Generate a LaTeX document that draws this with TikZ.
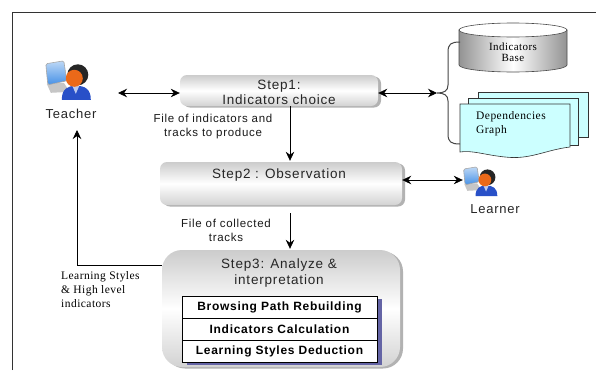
\documentclass[tikz,border=0pt]{standalone}
\usepackage{fontspec}
\setmainfont{Liberation Serif}
\newfontfamily\lsans[LetterSpace=6]{Liberation Sans}
\newfontfamily\lserif[LetterSpace=4]{Liberation Serif}
\usetikzlibrary{arrows.meta,shadows}
\definecolor{pagecyan}{RGB}{204,255,255}
\definecolor{tblshadow}{RGB}{100,100,165}
\definecolor{monblue}{RGB}{70,145,230}
\definecolor{skin}{RGB}{235,105,25}
\definecolor{shirt}{RGB}{40,80,200}
\tikzset{
  stepbox/.style={rounded corners=7pt, top color=gray!40, bottom color=gray!35, middle color=white, draw=none,
    drop shadow={shadow xshift=3pt, shadow yshift=-1.5pt, fill=gray!75, opacity=0.8}},
  arr/.style={-{Stealth[length=9pt,width=8.5pt]}, line width=0.8pt},
  darr/.style={{Stealth[length=9pt,width=8.5pt]}-{Stealth[length=9pt,width=8.5pt]}, line width=0.8pt},
  bigtxt/.style={font=\lsans\fontsize{13.5}{15.5}\selectfont, align=center, text=black!85, inner sep=0pt},
  smalltxt/.style={font=\lsans\fontsize{11.5}{14}\selectfont, align=center, text=black!90, inner sep=0pt},
  seriftxt/.style={font=\lserif\fontsize{11.5}{14}\selectfont, text=black, inner sep=0pt},
  rowbox/.style={draw=black, line width=0.8pt, fill=white, minimum width=195pt, minimum height=22pt,
    font=\lsans\bfseries\fontsize{12}{14}\selectfont, inner sep=0pt},
  iconbox/.style={minimum width=45pt, minimum height=39pt, inner sep=0pt},
  personicon/.pic={
    \fill[gray!45] (2,23) -- (19,22) -- (25,31) -- (6,32) -- cycle;
    \shade[top color=monblue!35, bottom color=monblue, draw=gray!70, line width=0.6pt, rounded corners=1.5pt]
      (1,3) -- (19,0) -- (22,20) -- (3,24) -- cycle;
    \fill[shirt] (17,39) .. controls (17,28) and (23,25) .. (31,25) .. controls (40,25) and (46,28) .. (46,39) -- cycle;
    \fill[shirt!30] (27.5,25) -- (31,33) -- (34.5,25) -- cycle;
    \fill[black!85] (33,14) circle (10.5);
    \fill[skin] (29.5,17.5) circle (8.5);
  }
}
\begin{document}
\begin{tikzpicture}[x=1pt,y=-1pt]
\useasboundingbox (0,0) rectangle (596,370);
\fill[white] (0,0) rectangle (596,370);
% frame
\draw[line width=0.8pt, black!80] (12,370) -- (12,12) -- (596,12);

% step boxes
\node[stepbox, minimum width=198pt, minimum height=31pt] (step1) at (279,90.5) {};
\node[stepbox, minimum width=242pt, minimum height=43pt] (step2) at (281,183.5) {};
\node[stepbox, rounded corners=20pt, minimum width=238pt, minimum height=117pt] (step3) at (281,308.5) {};
\node[bigtxt] (step1t) at (279,92.5) {Step1:\\Indicators choice};
\node[bigtxt] (step2t) at (279,175) {Step2 : Observation};
\node[bigtxt] (step3t) at (279,273) {Step3: Analyze \&\\interpretation};

% table with shadow
\coordinate (tnw) at (182,296);
\coordinate (tse) at (377,362);
\fill[tblshadow] ([xshift=5pt,yshift=-3pt]tnw) rectangle ([xshift=5pt,yshift=-3pt]tse);
\node[rowbox] (row1) at (279.5,307) {Browsing Path Rebuilding};
\node[rowbox] (row2) at (279.5,329) {Indicators Calculation};
\node[rowbox] (row3) at (279.5,351) {Learning Styles Deduction};

% actors
\node[iconbox] (teacher) at (67.5,80.5) {};
\pic at (teacher.north west) {personicon};
\node[font=\lsans\fontsize{13}{15}\selectfont, inner sep=0pt, text=black!85] (teacherlbl) at (71,114) {Teacher};
\node[iconbox, minimum width=34pt, minimum height=29pt] (learner) at (480,181.5) {};
\pic[scale=0.75] at (learner.north west) {personicon};
\node[font=\lsans\fontsize{13}{15}\selectfont, inner sep=0pt, text=black!85] (learnerlbl) at (495,209) {Learner};

% indicators base cylinder
\shade[left color=gray!85, right color=gray!85, middle color=white, draw=black!70, line width=0.6pt]
  (459,30) -- (459,65) arc[start angle=180, end angle=0, x radius=54, y radius=7] -- (567,30) -- cycle;
\draw[fill=white, draw=black!70, line width=0.6pt] (513,30) ellipse [x radius=54, y radius=7];
\node[seriftxt, font=\lserif\fontsize{11}{11.5}\selectfont, align=center] (base) at (513,52) {Indicators\\Base};

% dependencies graph (multi-document)
\draw[fill=pagecyan, draw=black!80, line width=0.6pt] (478,92) -- (588,92) -- (588,137) -- (478,137) -- cycle;
\draw[fill=pagecyan, draw=black!80, line width=0.6pt] (468,98) -- (578,98) -- (578,145) -- (468,145) -- cycle;
\draw[fill=pagecyan, draw=black!80, line width=0.6pt] (460,104) -- (570,104) -- (570,147)
  .. controls (545,150) and (530,160) .. (505,157) .. controls (485,155) and (472,150) .. (460,152) -- cycle;
\node[seriftxt, align=left, anchor=west] (graph) at (476,123.5) {Dependencies\\Graph};

% brace
\coordinate (btip) at (437,93);
\draw[gray!55!black, line width=1pt] (460,42) .. controls (451,42) and (448,44) .. (448,52) -- (448,85)
  .. controls (448,91) and (444,93) .. (btip) .. controls (444,93) and (448,95) .. (448,101) -- (448,134)
  .. controls (448,142) and (451,144) .. (460,144);

% labels
\node[smalltxt] (lab1) at (213,127) {File of indicators and\\tracks to produce};
\node[smalltxt] (lab2) at (226,230) {File of collected\\tracks};
\node[seriftxt, align=left, anchor=west] (lab3) at (61,290) {Learning Styles\\\& High level\\indicators};

% connectors
\coordinate (ta) at (118,93);
\coordinate (xs) at (290,0);
\coordinate (ly) at (0,180);
\coordinate (fbc) at (77,265);
\coordinate (fbtop) at (77,130);
\draw[darr] (ta) -- (step1.west |- ta);
\draw[darr] (step1.east |- btip) -- (btip);
\draw[arr] (step1.south -| xs) -- ([yshift=1pt]step2.north -| xs);
\draw[darr] (step2.east |- ly) -- (learner.west |- ly);
\draw[arr, shorten <=8pt] (step2.south -| xs) -- ([yshift=1pt]step3.north -| xs);
\draw[arr] (step3.west |- fbc) -- (fbc) -- (fbtop);
\end{tikzpicture}
\end{document}
